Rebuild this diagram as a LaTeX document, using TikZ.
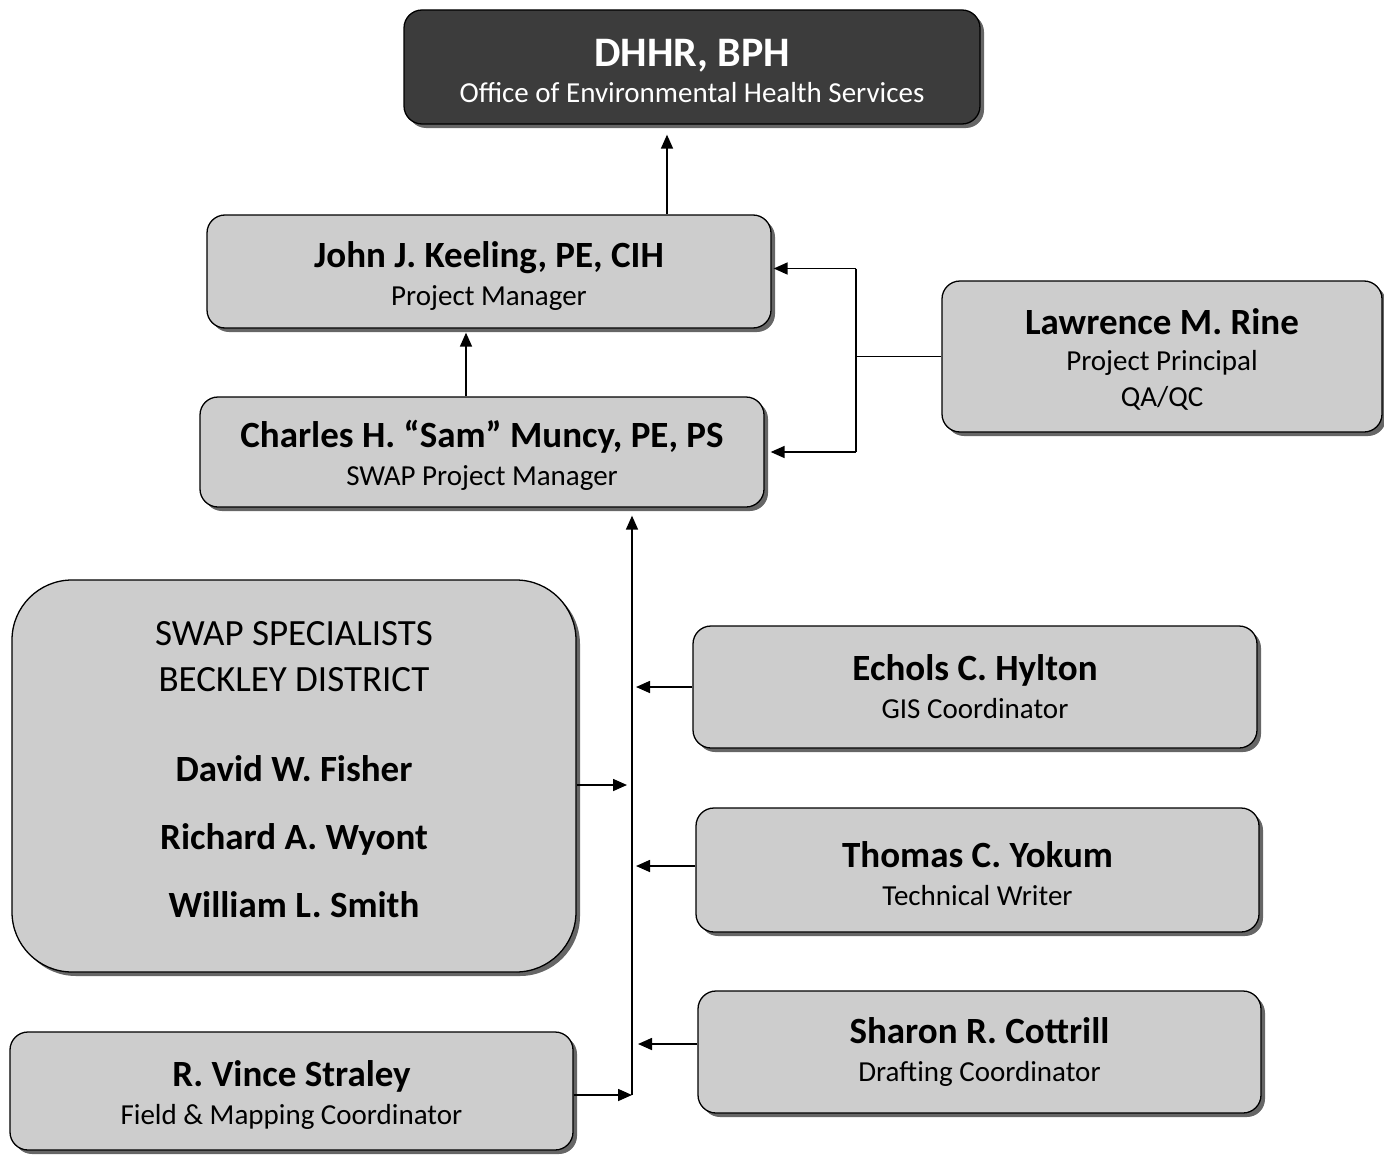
\documentclass[tikz,border=0pt]{standalone}
\usepackage{fontspec}
\setmainfont{Carlito}
\usetikzlibrary{shadows,arrows.meta}
\definecolor{boxfill}{HTML}{CDCDCD}
\definecolor{darkfill}{HTML}{3C3C3C}
\newcommand{\orgname}[2][0pt]{{\fontsize{37}{38}\selectfont\bfseries\rule{0pt}{#1}#2}}
\newcommand{\orgsub}[1]{{\fontsize{29}{38}\selectfont #1}}
\tikzset{
  orgbox/.style={draw=black, line width=1.3pt, fill=boxfill, rounded corners=18pt,
    align=center, inner sep=0pt, font=\fontsize{29}{38}\selectfont,
    drop shadow={shadow xshift=4pt, shadow yshift=-4pt, fill=black!60, opacity=1}},
  conn/.style={line width=1.6pt, draw=black},
  arr/.style={conn, -{Triangle[length=14pt,width=12pt]}},
}
\begin{document}
\begin{tikzpicture}[x=1pt,y=-1pt]
\useasboundingbox (0,0) rectangle (1384,1156);
% boxes
\node[orgbox, fill=darkfill, text=white, minimum width=576pt, minimum height=114pt,
  font=\fontsize{29}{36}\selectfont] (dhhr) at (692,67)
  {{\fontsize{42}{36}\selectfont\bfseries\rule{0pt}{35pt}DHHR, BPH}\\{\fontsize{29}{36}\selectfont Office of Environmental Health Services}};
\node[orgbox, minimum width=564pt, minimum height=113pt] (keel) at (489,271.5)
  {\orgname[34pt]{John J. Keeling, PE, CIH}\\\orgsub{Project Manager}};
\node[orgbox, minimum width=564pt, minimum height=110pt] (mun) at (482,452)
  {\orgname[34pt]{Charles H. “Sam” Muncy, PE, PS}\\\orgsub{SWAP Project Manager}};
\node[orgbox, minimum width=440pt, minimum height=151pt, font=\fontsize{29}{36}\selectfont] (rine) at (1162,356.5)
  {\orgname[32pt]{Lawrence M. Rine}\\\orgsub{Project Principal}\\\orgsub{QA/QC}};
\node[orgbox, rounded corners=60pt, minimum width=564pt, minimum height=392pt,
  font=\fontsize{37}{46}\selectfont] (spec) at (294,776)
  {SWAP SPECIALISTS\\BECKLEY DISTRICT\\[44pt]\textbf{David W. Fisher}\\[22pt]\textbf{Richard A. Wyont}\\[22pt]\textbf{William L. Smith}\rule[-14pt]{0pt}{14pt}};
\node[orgbox, minimum width=563pt, minimum height=118pt] (stra) at (291.5,1091)
  {\orgname[33pt]{R. Vince Straley}\\\orgsub{Field \& Mapping Coordinator}};
\node[orgbox, minimum width=564pt, minimum height=122pt] (hyl) at (975,687)
  {\orgname{Echols C. Hylton}\\\orgsub{GIS Coordinator}};
\node[orgbox, minimum width=563pt, minimum height=124pt] (yok) at (977.5,870)
  {\orgname[34pt]{Thomas C. Yokum}\\\orgsub{Technical Writer}};
\node[orgbox, minimum width=563pt, minimum height=122pt] (cot) at (979.5,1052)
  {\orgname{Sharon R. Cottrill}\\\orgsub{Drafting Coordinator}};
% helper coordinates
\coordinate (c1) at (667,0);
\coordinate (c2) at (466,0);
\coordinate (j) at (856,0);
\coordinate (t) at (632,0);
% connectors
\draw[arr, shorten >=10pt] (keel.north -| c1) -- (dhhr.south -| c1);
\draw[arr, shorten >=4pt] (mun.north -| c2) -- (keel.south -| c2);
\draw[conn] (rine.west) -- (rine.west -| j);
\draw[conn] ([yshift=3pt]j |- keel.east) -- (j |- mun.east);
\draw[arr, shorten >=2pt] ([yshift=3pt]j |- keel.east) -- ([yshift=3pt]keel.east);
\draw[arr, shorten >=6pt] (j |- mun.east) -- (mun.east);
\draw[arr, shorten >=8pt] ([yshift=-4pt]t |- stra.east) -- (t |- mun.south);
\draw[arr, shorten >=5pt] ([yshift=-9pt]spec.east) -- ([yshift=-9pt]t |- spec.east);
\draw[arr] ([yshift=-4pt]stra.east) -- ([yshift=-4pt]t |- stra.east);
\draw[arr, shorten >=4pt] (hyl.west) -- (t |- hyl.west);
\draw[arr, shorten >=4pt] ([yshift=4pt]yok.west) -- ([yshift=4pt]t |- yok.west);
\draw[arr, shorten >=6pt] ([yshift=8pt]cot.west) -- ([yshift=8pt]t |- cot.west);
\end{tikzpicture}
\end{document}
